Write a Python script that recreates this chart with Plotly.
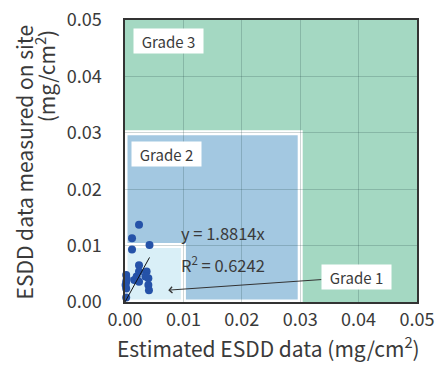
import plotly.graph_objects as go

# Measured vs. estimated ESDD samples (mg/cm2)
est_esdd = [0.0024, 0.0012, 0.0012, 0.0042, 0.0024, 0.0002, 0.0002, 0.0002, 0.0002,
            0.0016, 0.0020, 0.0024, 0.0024, 0.0037, 0.0040, 0.0040, 0.0041, 0.0035,
            0.0001, 0.0003]
site_esdd = [0.0137, 0.0113, 0.0093, 0.0101, 0.0065, 0.0048, 0.0036, 0.0024, 0.0008,
             0.0039, 0.0045, 0.0054, 0.0036, 0.0054, 0.0042, 0.0030, 0.0021, 0.0045,
             0.0030, 0.0041]

slope = 1.8814
r2 = 0.6242
fit_x = [0.0, 0.0042]

ticks = [0.00, 0.01, 0.02, 0.03, 0.04, 0.05]
tick_text = [f"{t:.2f}" for t in ticks]

grade_limits = {"Grade 1": 0.01, "Grade 2": 0.03, "Grade 3": 0.05}

GREEN = "#a4d8c2"
BLUE = "#a3c8e1"
LIGHT = "#d9eff7"
DOT = "#2552a8"
TXT = "#3a3a3a"
FONT = "Noto Sans CJK JP"

fig = go.Figure()

fig.add_trace(go.Scatter(
    x=est_esdd, y=site_esdd, mode="markers",
    marker=dict(color=DOT, size=8), showlegend=False, cliponaxis=False,
))
fig.add_trace(go.Scatter(
    x=fit_x, y=[slope * v for v in fit_x], mode="lines",
    line=dict(color="#111111", width=1), showlegend=False,
))

# Grade zones: grade 3 fills the whole plot, grades 2 and 1 nest inside with white frames
for name, fill in (("Grade 2", BLUE), ("Grade 1", LIGHT)):
    lim = grade_limits[name]
    fig.add_shape(type="rect", xref="x", yref="y", x0=0, y0=0, x1=lim, y1=lim,
                  fillcolor=fill, line=dict(color="white", width=5), layer="below")

box_font = dict(family=FONT, size=15, color=TXT)
box_style = dict(bgcolor="white", borderpad=1, width=67, height=22, font=box_font)
fig.add_annotation(x=0.00135, y=0.0486, xref="x", yref="y", text="Grade 3",
                   xanchor="left", yanchor="top", showarrow=False, **box_style)
fig.add_annotation(x=0.0011, y=0.0286, xref="x", yref="y", text="Grade 2",
                   xanchor="left", yanchor="top", showarrow=False, **box_style)
fig.add_annotation(x=0.0074, y=0.0021, xref="x", yref="y", text="Grade 1",
                   ax=188, ay=-13, showarrow=True, arrowhead=4, arrowsize=1.2,
                   arrowwidth=1, arrowcolor="#333333", standoff=0, **box_style)

eq_font = dict(family=FONT, size=16.5, color=TXT)
fig.add_annotation(x=0.0092, y=0.0122, xref="x", yref="y",
                   text=f"y = {slope:.4f}x", xanchor="left", showarrow=False, font=eq_font)
fig.add_annotation(x=0.0092, y=0.0066, xref="x", yref="y",
                   text=f"R<sup>2</sup> = {r2:.4f}", xanchor="left", showarrow=False,
                   font=eq_font)

# Axis titles, drawn as paper-anchored text
title_font = dict(family=FONT, size=21, color=TXT)
fig.add_annotation(x=-0.346, y=0.495, xref="paper", yref="paper",
                   text="ESDD data measured on site", textangle=-90,
                   xanchor="center", yanchor="middle", showarrow=False, font=title_font)
fig.add_annotation(x=-0.271, y=0.80, xref="paper", yref="paper",
                   text="(mg/cm<sup>2</sup>)", textangle=-90,
                   xanchor="center", yanchor="middle", showarrow=False, font=title_font)
fig.add_annotation(x=0.49, y=-0.158, xref="paper", yref="paper",
                   text="Estimated ESDD data (mg/cm<sup>2</sup>)",
                   xanchor="center", yanchor="middle", showarrow=False,
                   font=dict(family=FONT, size=21, color=TXT))

axis_common = dict(
    range=[0, 0.05], tickvals=ticks, ticktext=tick_text, automargin=False,
    showgrid=True, gridcolor="rgba(30,70,70,0.22)", gridwidth=1,
    zeroline=False, showline=True, linecolor="#333333", linewidth=1.5, mirror=True,
    tickfont=dict(family=FONT, size=18, color=TXT), ticks="",
)

fig.update_xaxes(**axis_common, ticklabelstandoff=1)
fig.update_yaxes(**axis_common, ticklabelstandoff=18)

fig.update_layout(
    width=436, height=368,
    margin=dict(l=125, r=19, t=20, b=66),
    plot_bgcolor=GREEN, paper_bgcolor="white",
    showlegend=False,
)

fig.write_html("out.html")
